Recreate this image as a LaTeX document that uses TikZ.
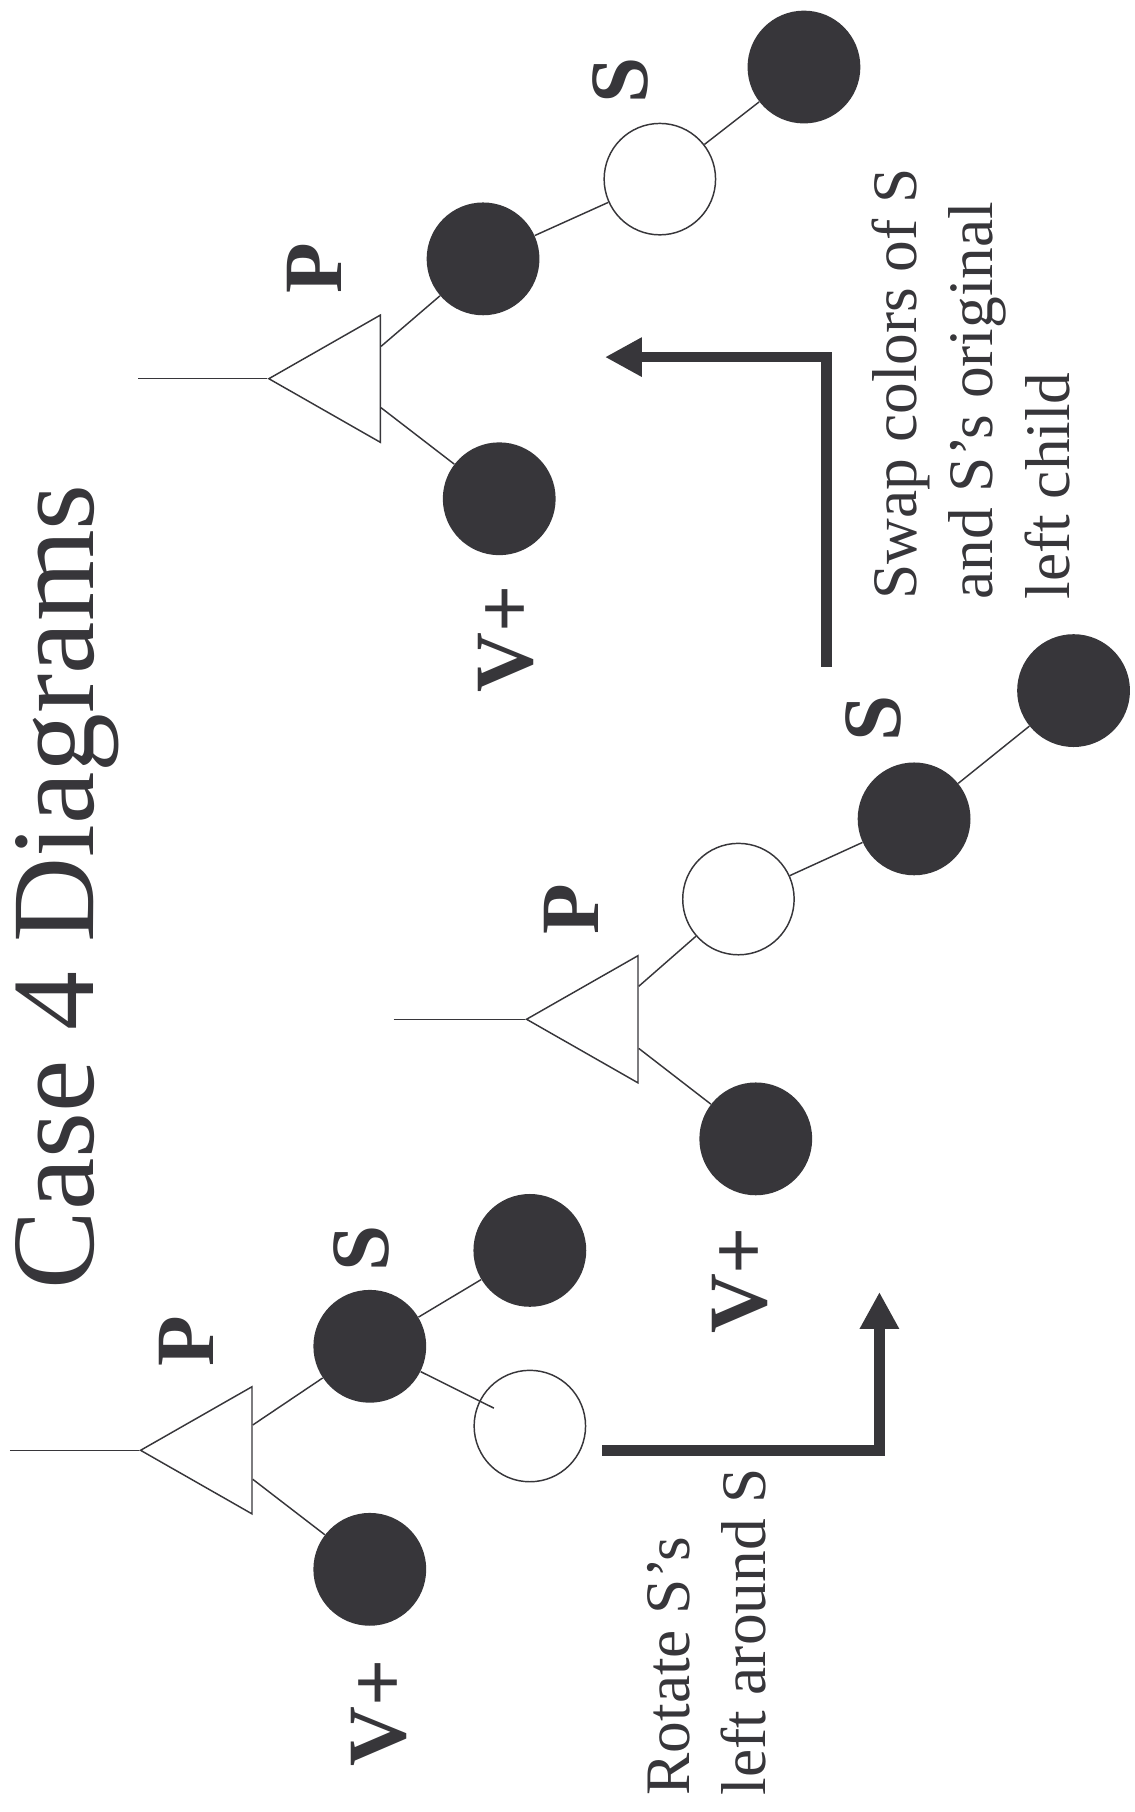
\documentclass[tikz,border=0pt]{standalone}
\usepackage{fontspec}
\setmainfont{Liberation Serif}
\usetikzlibrary{arrows.meta, shapes.geometric}
\definecolor{ink}{RGB}{55,54,58}
\tikzset{%
    blacknode/.style = {circle, fill=ink, draw=none, minimum size=2.44cm, inner sep=0pt},
    whitenode/.style = {circle, draw=ink, fill=white, line width=0.9pt,
        minimum size=2.41cm, inner sep=0pt},
    tri/.style = {isosceles triangle, shape border rotate=180, isosceles triangle stretches,
        draw=ink, line width=0.9pt, minimum width=2.75cm, minimum height=2.41cm, inner sep=0pt},
    edge/.style = {draw=ink, line width=0.9pt},
    lbl/.style = {font=\fontsize{51}{60}\selectfont\bfseries, text=ink, rotate=90, inner sep=0pt},
    note/.style = {font=\fontsize{39}{47}\selectfont, text=ink, rotate=90, align=left,
        inner sep=0pt, anchor=north west},
    turn/.style = {draw=ink, line width=0.23cm, -{Triangle[length=0.8cm, width=0.8cm]}},
}

\begin{document}
\begin{tikzpicture}[x=0.025cm, y=-0.025cm]
    \useasboundingbox (0,0) rectangle (982,1568);
    \node [font=\fontsize{72.5}{80}\selectfont, text=ink, rotate=90, inner sep=0pt,
        anchor=base west] (title) at (81,1116) {Case 4 Diagrams};

    % before
    \coordinate (stem1) at (8.5,1255);
    \node [tri, anchor=apex] (t1) at (120,1255) {};
    \node [blacknode] (s1) at (320,1165) {};
    \node [blacknode] (r1) at (458.5,1082) {};
    \node [whitenode] (w1) at (458.5,1234) {};
    \node [blacknode] (v1) at (320,1358) {};
    \path [edge] (stem1) -- (t1.apex);
    \path [edge] (t1) -- (s1);
    \path [edge] (t1) -- (v1);
    \path [edge] (s1) -- (r1);
    \path [edge, shorten >=0.87cm] (s1) -- (w1.center);
    \node [lbl] (p1lbl) at (161,1161) {P};
    \node [lbl] (s1lbl) at (313,1080) {S};
    \node [lbl] (v1lbl) at (328,1482) {V+};

    % after rotation
    \coordinate (stem2) at (340.6,882);
    \node [tri, anchor=apex] (t2) at (454,882) {};
    \node [whitenode] (p2) at (639,778) {};
    \node [blacknode] (s2) at (791,708.6) {};
    \node [blacknode] (r2) at (929,597.6) {};
    \node [blacknode] (v2) at (654,985.5) {};
    \path [edge] (stem2) -- (t2.apex);
    \path [edge] (t2) -- (p2);
    \path [edge] (t2) -- (v2);
    \path [edge] (p2) -- (s2);
    \path [edge] (s2) -- (r2);
    \node [lbl] (p2lbl) at (494,787) {P};
    \node [lbl] (s2lbl) at (755.5,622) {S};
    \node [lbl] (v2lbl) at (640,1108) {V+};

    % after swap
    \coordinate (stem3) at (119.6,327.7);
    \node [tri, anchor=apex] (t3) at (231,327.7) {};
    \node [blacknode] (p3) at (418,224) {};
    \node [whitenode] (s3) at (571,155) {};
    \node [blacknode] (r3) at (695.7,58) {};
    \node [blacknode] (v3) at (432,431.6) {};
    \path [edge] (stem3) -- (t3.apex);
    \path [edge] (t3) -- (p3);
    \path [edge] (t3) -- (v3);
    \path [edge] (p3) -- (s3);
    \path [edge] (s3) -- (r3);
    \node [lbl] (p3lbl) at (272,232) {P};
    \node [lbl] (s3lbl) at (537,70) {S};
    \node [lbl] (v3lbl) at (438,553) {V+};

    \coordinate (a1s) at (521,1255);
    \coordinate (a1e) at (761,1118);
    \path [turn] (a1s) -| (a1e);
    \coordinate (a2s) at (715,577);
    \coordinate (a2e) at (523.5,309);
    \path [turn] (a2s) |- (a2e);

    \node [note] (rotnote) at (560,1554) {Rotate S's\\left around S};
    \node [note] (swapnote) at (754,519) {Swap colors of S\\and S's original\\left child};
\end{tikzpicture}
\end{document}
